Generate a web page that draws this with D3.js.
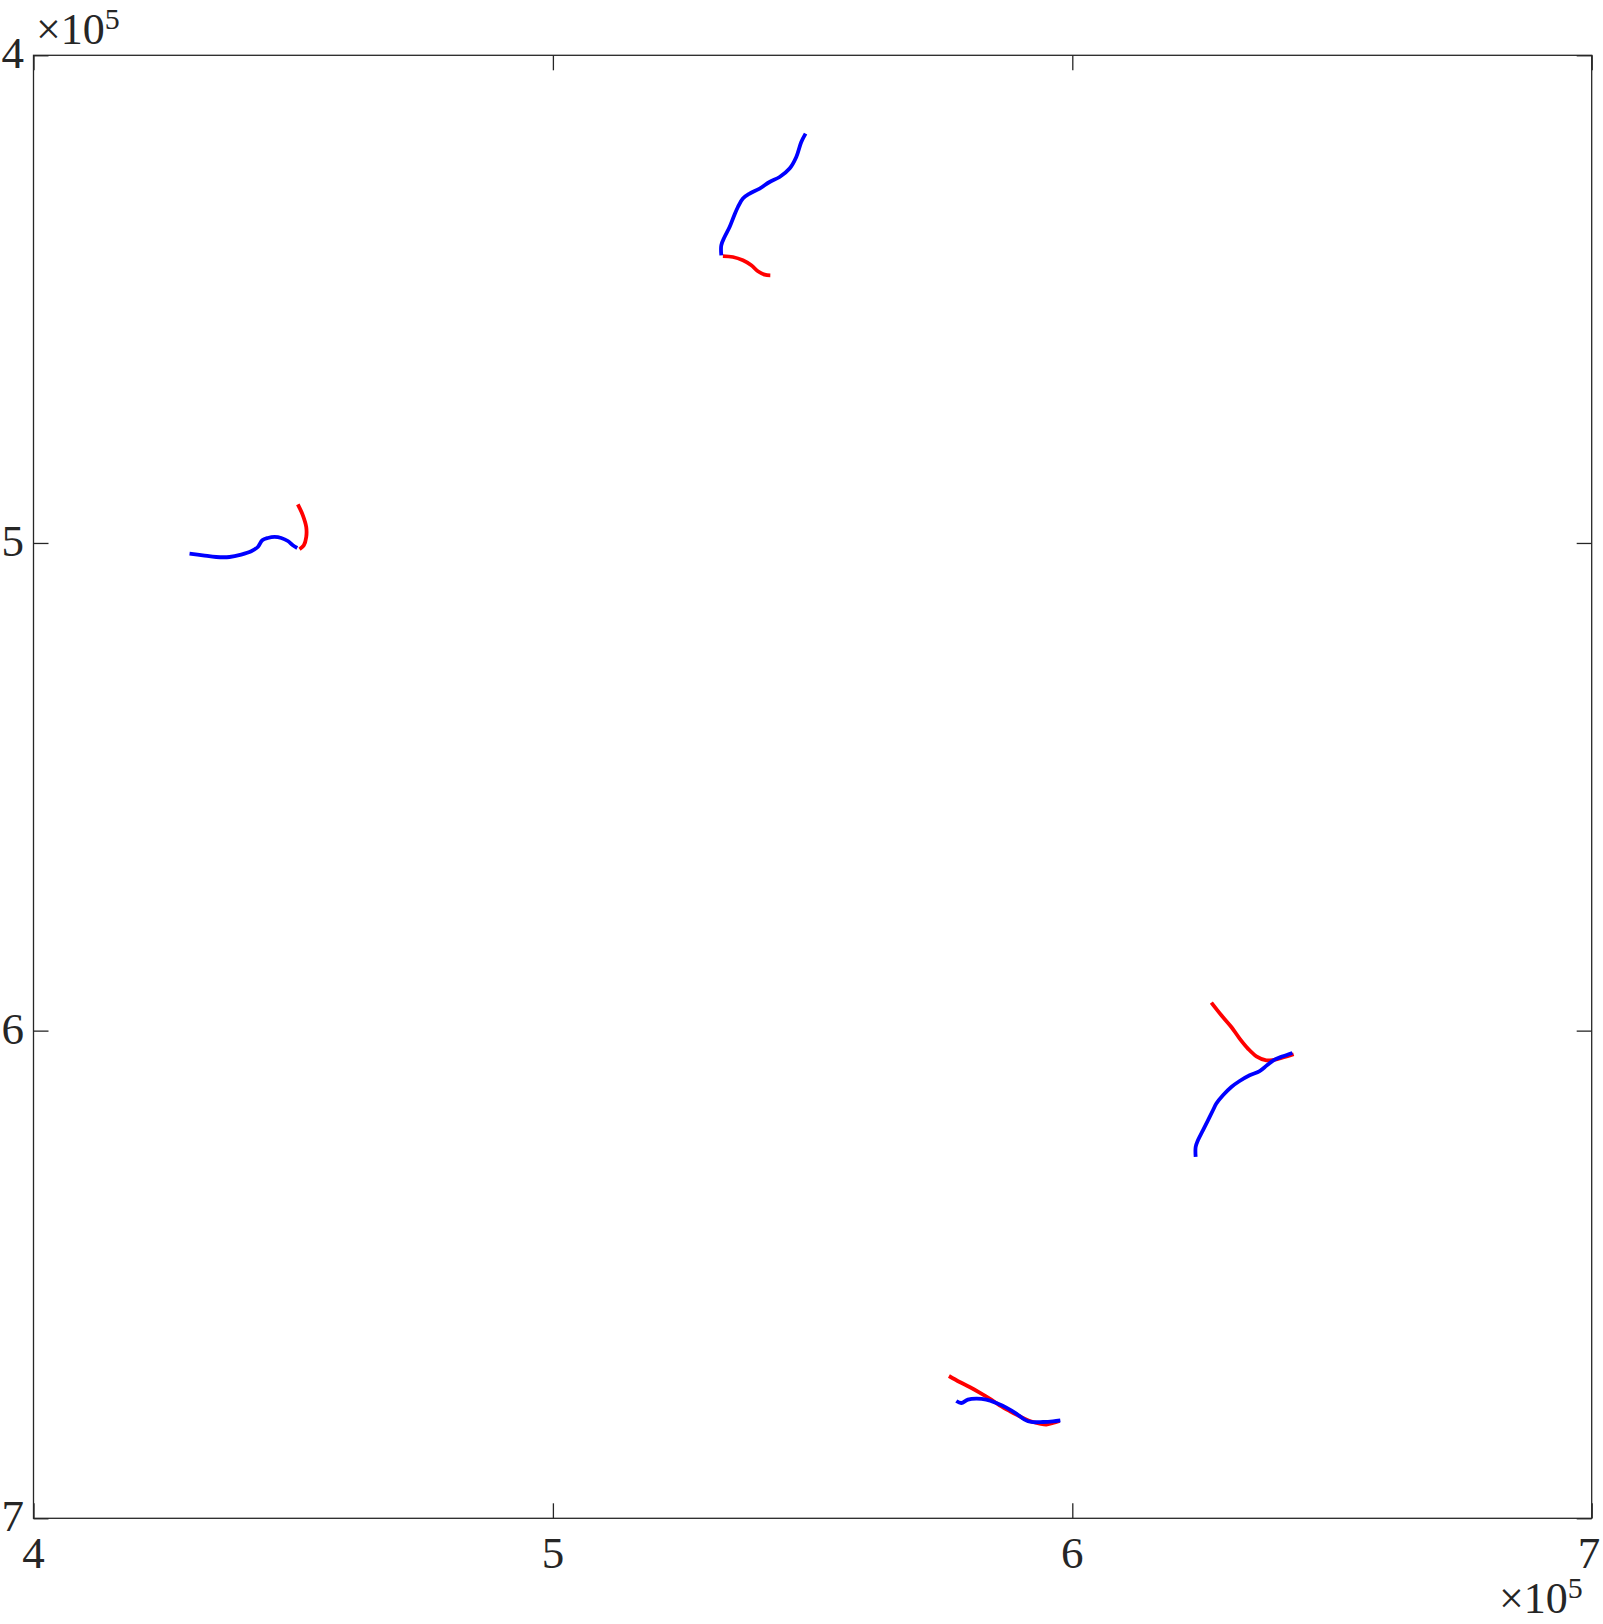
<!DOCTYPE html>
<html>
<head>
<meta charset="utf-8">
<script src="https://cdn.jsdelivr.net/npm/d3@7"></script>
<style>
html,body{margin:0;padding:0;background:#fff;}
svg{display:block;}
text{font-family:"Liberation Serif","DejaVu Serif",serif;fill:#262626;}
</style>
</head>
<body>
<svg id="chart" width="1603" height="1624"></svg>
<script>
// values in units of 1e5
const xTicks = [4, 5, 6, 7];
const yTicks = [4, 5, 6, 7];
const tickLabels = ["4", "5", "6", "7"];
const exponentLabel = "5";

const red1 = [[5.3273,4.4116],[5.3465,4.4136],[5.3658,4.4204],[5.3820,4.4306],[5.3947,4.4429],[5.4076,4.4497],[5.4186,4.4511]];
const blue1 = [[5.4865,4.1606],[5.4782,4.1778],[5.4686,4.2085],[5.4557,4.2323],[5.4365,4.2496],[5.4172,4.2598],[5.3980,4.2733],[5.3787,4.2836],[5.3658,4.2938],[5.3562,4.3111],[5.3479,4.3316],[5.3402,4.3521],[5.3305,4.3726],[5.3242,4.3896],[5.3242,4.4101]];

const red2 = [[4.5089,4.9207],[4.5186,4.9433],[4.5251,4.9673],[4.5251,4.9877],[4.5205,5.0048],[4.5122,5.0130]];
const blue2 = [[4.3004,5.0218],[4.3260,5.0253],[4.3518,5.0288],[4.3774,5.0288],[4.3999,5.0239],[4.4192,5.0171],[4.4319,5.0083],[4.4404,4.9945],[4.4512,4.9898],[4.4641,4.9877],[4.4770,4.9898],[4.4897,4.9960],[4.4993,5.0048],[4.5078,5.0103]];

const red3 = [[6.2677,5.9425],[6.2870,5.9685],[6.3062,5.9925],[6.3222,6.0163],[6.3382,6.0368],[6.3544,6.0526],[6.3736,6.0608],[6.3929,6.0588],[6.4089,6.0540],[6.4262,6.0485]];
const blue3 = [[6.4237,6.0458],[6.4056,6.0526],[6.3896,6.0594],[6.3748,6.0711],[6.3607,6.0828],[6.3415,6.0916],[6.3222,6.1033],[6.3062,6.1156],[6.2901,6.1326],[6.2773,6.1496],[6.2708,6.1633],[6.2612,6.1839],[6.2515,6.2044],[6.2419,6.2249],[6.2375,6.2386],[6.2375,6.2591]];

const red4 = [[5.7625,6.7082],[5.7831,6.7205],[5.8023,6.7307],[5.8216,6.7422],[5.8408,6.7545],[5.8601,6.7683],[5.8793,6.7800],[5.8986,6.7908],[5.9179,6.8005],[5.9371,6.8058],[5.9500,6.8078],[5.9627,6.8045],[5.9756,6.8005]];
const blue4 = [[5.7767,6.7594],[5.7863,6.7636],[5.7990,6.7566],[5.8152,6.7545],[5.8345,6.7566],[5.8537,6.7636],[5.8730,6.7730],[5.8922,6.7853],[5.9082,6.7976],[5.9211,6.8025],[5.9435,6.8025],[5.9627,6.8011],[5.9770,6.7990]];

const redSeries = [red1, red2, red3, red4];
const blueSeries = [blue1, blue2, blue3, blue4];

const svg = d3.select("#chart");
const L = 33.5, R = 1591.7, T = 55.3, B = 1518.3;
const x = d3.scaleLinear().domain([4, 7]).range([L, R]);
const y = d3.scaleLinear().domain([4, 7]).range([T, B]);
const tickLen = 15;
const axisColor = "#262626";

const line = d3.line().x(d => x(d[0])).y(d => y(d[1])).curve(d3.curveCatmullRom.alpha(0.5));

const g = svg.append("g");
g.selectAll("path.red").data(redSeries).join("path")
  .attr("class","red").attr("d", line)
  .attr("fill","none").attr("stroke","#ff0000").attr("stroke-width",3.8).attr("stroke-linejoin","round");
g.selectAll("path.blue").data(blueSeries).join("path")
  .attr("class","blue").attr("d", line)
  .attr("fill","none").attr("stroke","#0000ff").attr("stroke-width",3.8).attr("stroke-linejoin","round");

// axes (inside ticks on all sides)
const axB = d3.axisBottom(x).tickValues(xTicks).tickSize(-tickLen).tickFormat("");
const axT = d3.axisTop(x).tickValues(xTicks).tickSize(-tickLen).tickFormat("");
const axL = d3.axisLeft(y).tickValues(yTicks).tickSize(-tickLen).tickFormat("");
const axR = d3.axisRight(y).tickValues(yTicks).tickSize(-tickLen).tickFormat("");
function style(sel){
  sel.select(".domain").remove();
  sel.selectAll("line").attr("stroke", axisColor).attr("stroke-width",1.3);
}
svg.append("g").attr("transform",`translate(0,${B})`).call(axB).call(style);
svg.append("g").attr("transform",`translate(0,${T})`).call(axT).call(style);
svg.append("g").attr("transform",`translate(${L},0)`).call(axL).call(style);
svg.append("g").attr("transform",`translate(${R},0)`).call(axR).call(style);
svg.append("rect").attr("x",L).attr("y",T).attr("width",R-L).attr("height",B-T)
  .attr("fill","none").attr("stroke",axisColor).attr("stroke-width",1.3);

// tick labels
svg.selectAll("text.xl").data(xTicks).join("text").attr("class","xl")
  .attr("x", (d,i) => i === xTicks.length - 1 ? Math.min(x(d), 1589) : x(d)).attr("y", B + 50)
  .attr("text-anchor","middle").attr("font-size",45)
  .text((d,i) => tickLabels[i]);
svg.selectAll("text.yl").data(yTicks).join("text").attr("class","yl")
  .attr("x", 24).attr("y", d => y(d) + 13)
  .attr("text-anchor","end").attr("font-size",45)
  .text((d,i) => tickLabels[i]);

// exponent labels
function expLabel(xs, ys, size){
  const t = svg.append("text").attr("x", xs).attr("y", ys).attr("font-size",size);
  t.append("tspan").text("×10");
  t.append("tspan").attr("font-size",size*0.68).attr("dy",-size*0.34).text(exponentLabel);
}
expLabel(36, 44, 44);
expLabel(1499, 1613, 44);
</script>
</body>
</html>
